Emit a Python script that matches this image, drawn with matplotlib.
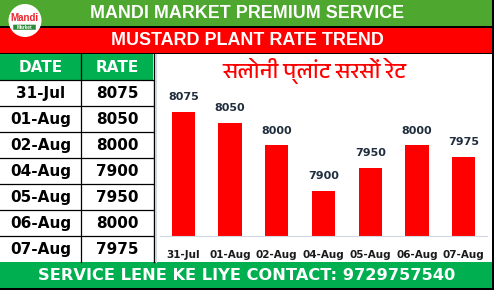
import matplotlib
matplotlib.use("Agg")
import matplotlib.pyplot as plt
from matplotlib.patches import Rectangle, Circle, FancyBboxPatch
from matplotlib import font_manager as fm

dates = ["31-Jul", "01-Aug", "02-Aug", "04-Aug", "05-Aug", "06-Aug", "07-Aug"]
rates = [8075, 8050, 8000, 7900, 7950, 8000, 7975]
header_title = "MANDI MARKET PREMIUM SERVICE"
sub_title = "MUSTARD PLANT RATE TREND"
chart_title = "सलोनी प्लांट सरसों रेट"
footer = "SERVICE LENE KE LIYE CONTACT: 9729757540"
col_headers = ["DATE", "RATE"]

# find a Devanagari-capable font if any
deva = None
for f in fm.fontManager.ttflist:
    n = f.name.lower()
    if "devanagari" in n or "lohit" in n or "mangal" in n or "hind" in n or "mukta" in n:
        deva = f.name
        break
hindi_family = [deva, "DejaVu Sans"] if deva else ["DejaVu Sans"]

W, H = 494, 290
fig = plt.figure(figsize=(W / 100, H / 100), dpi=100)
bg = fig.add_axes([0, 0, 1, 1])
bg.set_xlim(0, W)
bg.set_ylim(H, 0)
bg.axis("off")

GREEN1 = "#4EA72E"
GREEN2 = "#00B050"
RED = "#FF0000"
FONT = "Liberation Sans"
HEAVY = "DejaVu Sans"

# top bands
bg.add_patch(Rectangle((0, 0), W, 26, color=GREEN1, lw=0))
bg.add_patch(Rectangle((0, 26), W, 1.5, color="black", lw=0))
bg.add_patch(Rectangle((0, 27.5), W, 25, color=RED, lw=0))
bg.add_patch(Rectangle((0, 52.5), W, 1.8, color="black", lw=0))
bg.text(247, 13.5, header_title, color="white", fontsize=12.9, fontweight="bold",
        family=FONT, ha="center", va="center")
bg.text(247, 40.5, sub_title, color="white", fontsize=12.9, fontweight="bold",
        family=FONT, ha="center", va="center")

# logo
bg.add_patch(Circle((25, 20.5), 16.5, color="white", lw=0, zorder=3))
bg.text(24, 18, "Mandi", color="#E8262B", fontsize=7, fontweight="bold",
        family=FONT, ha="center", va="center", zorder=4)
bg.add_patch(FancyBboxPatch((13.5, 25), 22, 4.5, boxstyle="round,pad=0.3",
                            color="#2E8B3A", lw=0, zorder=4))
bg.text(24.5, 27.3, "Market", color="white", fontsize=3.4, fontweight="bold",
        family=FONT, ha="center", va="center", zorder=5)

# table
row_h = 26
top = 54.3
bg.add_patch(Rectangle((0, top), 153, 80 - top, color=GREEN2, lw=0))
bg.text(41, 67.5, col_headers[0], color="white", fontsize=11, fontweight="bold",
        family=HEAVY, ha="center", va="center")
bg.text(117, 67.5, col_headers[1], color="white", fontsize=11, fontweight="bold",
        family=HEAVY, ha="center", va="center")
for i, (d, r) in enumerate(zip(dates, rates)):
    y0 = 80 + i * row_h
    bg.plot([0, 153], [y0, y0], color="black", lw=0.9)
    bg.text(41, y0 + 13.5, d, color="black", fontsize=11, fontweight="bold",
            family=HEAVY, ha="center", va="center")
    bg.text(117, y0 + 13.5, str(r), color="black", fontsize=11, fontweight="bold",
            family=HEAVY, ha="center", va="center")
bg.plot([80.5, 80.5], [top, 262], color="black", lw=0.9)
bg.plot([153.5, 153.5], [top, 262], color="black", lw=1.0)
bg.plot([155.5, 155.5], [top, 262], color="#D0D8E4", lw=0.8)

# footer
bg.add_patch(Rectangle((0, 262), W, 26, color=GREEN2, lw=0))
bg.add_patch(Rectangle((0, 287.5), W, 2.5, color="black", lw=0))
bg.text(247, 275, footer, color="white", fontsize=11.7, fontweight="bold",
        family=HEAVY, ha="center", va="center")

# right border
bg.add_patch(Rectangle((491.5, 0), 2.5, H, color="black", lw=0))

# Hindi title
bg.text(314, 71, chart_title, color=RED, fontsize=16, fontweight="bold",
        family=hindi_family, ha="center", va="center")

# bar chart
ax = fig.add_axes([160 / W, (H - 236) / H, (487 - 160) / W, (236 - 90) / H])
x = list(range(len(dates)))
ax.bar(x, rates, width=0.5, color=RED, bottom=0)
ax.set_xlim(-0.5, len(dates) - 0.5)
ax.set_ylim(7800, 8122.6)
ax.set_facecolor("none")
for s in ["top", "right", "left"]:
    ax.spines[s].set_visible(False)
ax.spines["bottom"].set_color("#D0D8E4")
ax.spines["bottom"].set_linewidth(0.8)
ax.set_yticks([])
ax.set_xticks(x)
ax.set_xticklabels(dates, fontsize=7.5, fontweight="bold", family=HEAVY, color="#1A1A1A")
ax.tick_params(axis="x", length=0, pad=10)
for xi, r in zip(x, rates):
    ax.annotate(str(r), (xi, r), xytext=(0, 7), textcoords="offset points",
                ha="center", va="bottom", fontsize=8, fontweight="bold",
                family=HEAVY, color="#1F2D3D")

fig.savefig("out.png", dpi=100)
